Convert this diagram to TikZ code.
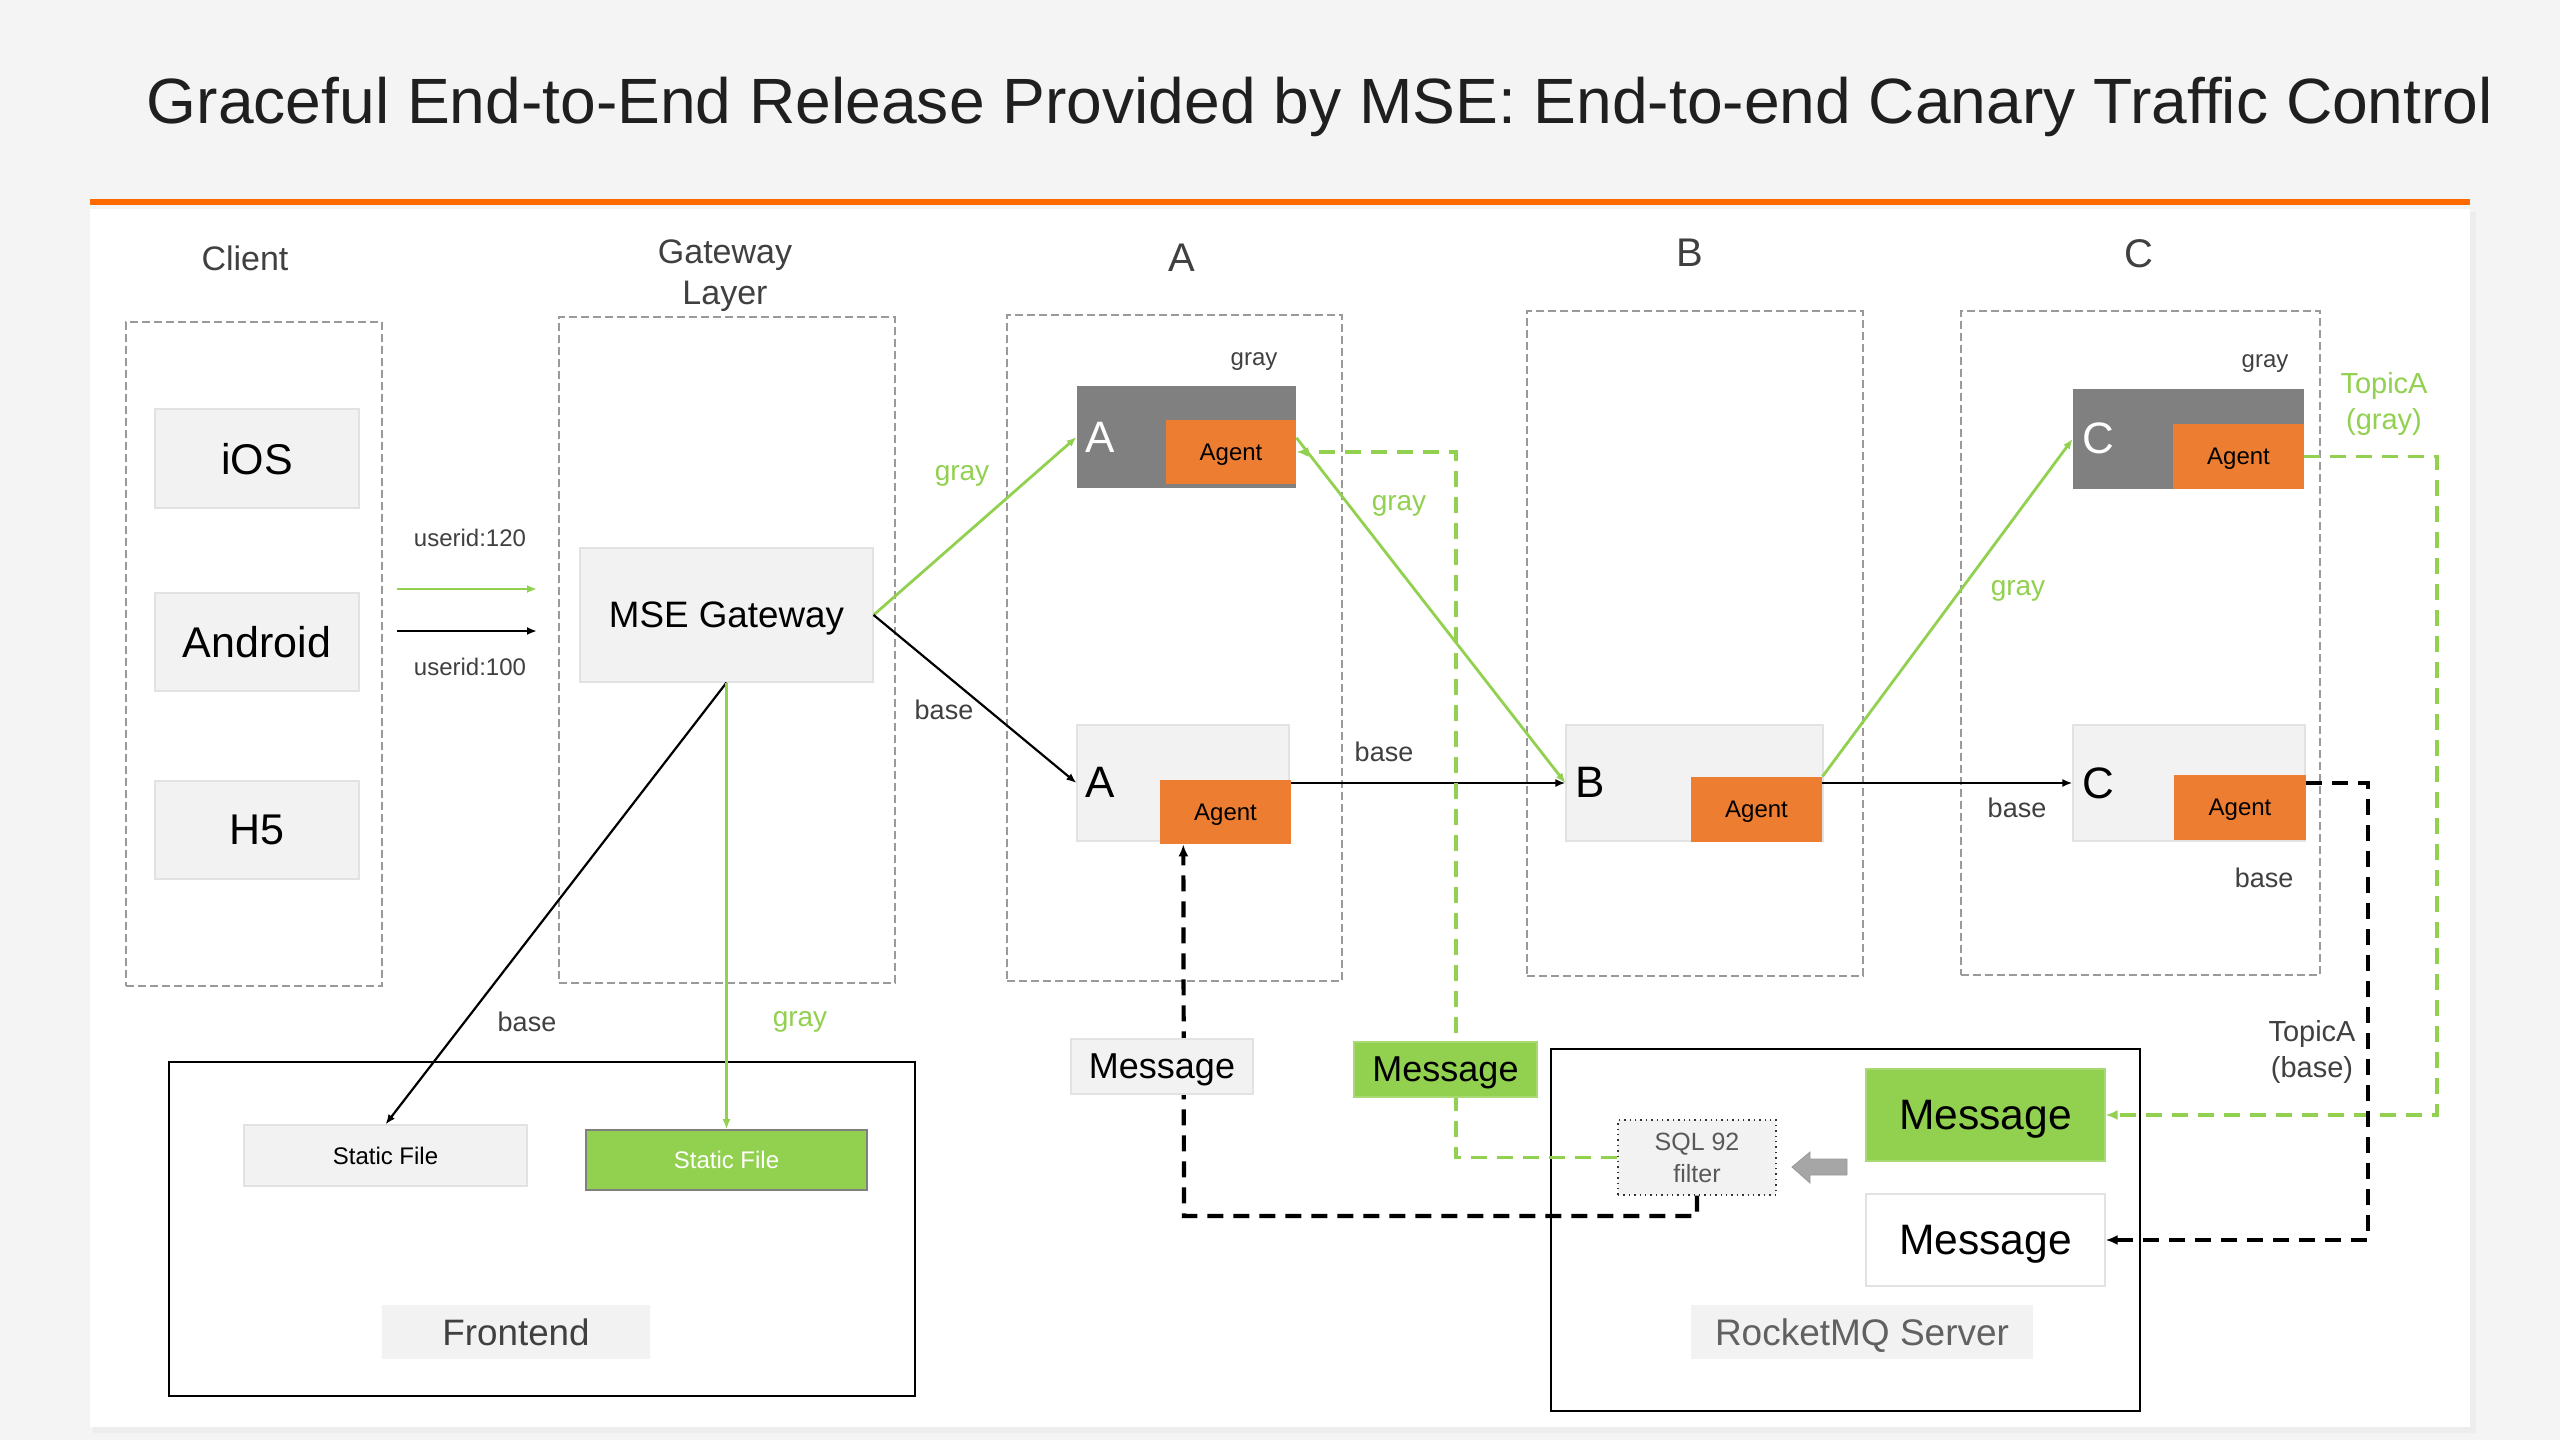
\documentclass[tikz,border=0pt]{standalone}
\usepackage{graphicx}
\usepackage{fontspec}
\setmainfont{Liberation Sans}
\usetikzlibrary{arrows.meta,calc}
\definecolor{pagebg}{HTML}{F4F4F4}
\definecolor{orangeline}{HTML}{FF6A00}
\definecolor{grn}{HTML}{92D050}
\definecolor{agentor}{HTML}{ED7D31}
\definecolor{darkbox}{HTML}{808080}
\definecolor{lightbox}{HTML}{F2F2F2}
\definecolor{lightborder}{HTML}{E2E2E2}
\definecolor{dashborder}{HTML}{9A9A9A}
\definecolor{txtgray}{HTML}{404040}
\definecolor{blockarrow}{HTML}{A6A6A6}
\newcommand\fz[2]{\fontsize{#1}{#2}\selectfont}
\begin{document}
\begin{tikzpicture}[x=0.5pt,y=-0.5pt,
  wh/.style 2 args={minimum width=#1*0.5pt, minimum height=#2*0.5pt},
  box/.style={draw=lightborder, fill=lightbox, inner sep=0pt, line width=0.6pt, text depth=0pt},
  dbox/.style={draw=dashborder, dash pattern=on 4pt off 2pt, line width=0.6pt, inner sep=0pt},
  agentbox/.style={fill=agentor, inner sep=0pt, font=\fz{12}{14}, text depth=0pt},
  graybox/.style={fill=darkbox, inner sep=0pt},
  lbl/.style={text=txtgray, inner sep=0pt, align=center},
  glbl/.style={text=grn, inner sep=0pt, align=center},
  arr/.style={-{Latex[length=5pt,width=4pt]}, line width=1.1pt},
  garr/.style={arr, draw=grn, line width=1.4pt},
  bdash/.style={line width=2.1pt, dash pattern=on 8pt off 5pt, -{Latex[length=6pt,width=5pt]}},
  gdash/.style={line width=1.9pt, draw=grn, dash pattern=on 8pt off 5pt, -{Latex[length=6pt,width=5pt]}},
  msg/.style={inner sep=0pt, line width=0.6pt, text depth=0pt}
]
\useasboundingbox (0,0) rectangle (2560,1440);
\fill[pagebg] (0,0) rectangle (2560,1440);
% panel
\fill[black!7] (93,212) rectangle (2476,1433);
\fill[white] (90,209) rectangle (2470,1427);
\fill[orangeline] (90,199) rectangle (2470,205);

% title
\node[anchor=base, inner sep=0pt, text=black!88] (title) at (1320,123)
  {\resizebox{1173pt}{\height}{\fz{32}{38}Graceful End-to-End Release Provided by MSE: End-to-end Canary Traffic Control}};

% column labels
\node[lbl, font=\fz{17}{20}] (clientlbl) at (245,258) {Client};
\node[lbl, font=\fz{17}{20.5}] (gwlbl) at (725,276) {Gateway\\Layer};
\node[lbl, font=\fz{20}{24}] (colA) at (1182,258) {A};
\node[lbl, font=\fz{20}{24}] (colB) at (1690,253) {B};
\node[lbl, font=\fz{20}{24}] (colC) at (2139,254) {C};

% dashed containers
\node[dbox, wh={256}{664}] (clientbox) at (254,654) {};
\node[dbox, wh={336}{666}] (gwbox) at (727,650) {};
\node[dbox, wh={335}{666}] (Abox) at (1174.5,648) {};
\node[dbox, wh={336}{665}] (Bbox) at (1695,643.5) {};
\node[dbox, wh={359}{664}] (Cbox) at (2140.5,643) {};

% clients
\node[box, wh={204}{99}, font=\fz{21.5}{25}] (ios) at (257,458.5) {iOS};
\node[box, wh={204}{98}, font=\fz{21.5}{25}] (android) at (257,642) {Android};
\node[box, wh={204}{98}, font=\fz{21.5}{25}] (h5) at (257,830) {H5};

% gateway
\node[box, wh={293}{134}, font=\fz{18.4}{22}] (mse) at (726.5,615) {MSE Gateway};

% A
\node[graybox, wh={219}{102}] (Ag) at (1186.5,437) {};
\node[agentbox, wh={130}{64}] (Aga) at (1231,452) {Agent};
\node[inner sep=0pt, text=white, font=\fz{22}{26}] (AgL) at (1100,437) {A};
\node[lbl, font=\fz{12}{14}, text depth=0pt] (Agray) at (1254,359) {gray};
\node[box, wh={212}{116}] (Ab) at (1183,783) {};
\node[agentbox, wh={131}{64}] (Aba) at (1225.5,812) {Agent};
\node[inner sep=0pt, font=\fz{22}{26}] (AbL) at (1100,782) {A};

% B
\node[box, wh={257}{116}] (Bb) at (1694.5,783) {};
\node[agentbox, wh={131}{65}] (Bba) at (1756.5,809.5) {Agent};
\node[inner sep=0pt, font=\fz{22}{26}] (BbL) at (1590,782) {B};

% C
\node[graybox, wh={231}{100}] (Cg) at (2188.5,439) {};
\node[agentbox, wh={131}{65}] (Cga) at (2238.5,456.5) {Agent};
\node[inner sep=0pt, text=white, font=\fz{22}{26}] (CgL) at (2098,438) {C};
\node[lbl, font=\fz{12}{14}, text depth=0pt] (Cgray) at (2265,361) {gray};
\node[box, wh={232}{116}] (Cb) at (2189,783) {};
\node[agentbox, wh={132}{65}] (Cba) at (2240,807.5) {Agent};
\node[inner sep=0pt, font=\fz{22}{26}] (CbL) at (2098,783) {C};
\node[lbl, font=\fz{13.5}{16}] (Cbase) at (2264,878) {base};

% Frontend
\node[draw=black, line width=0.8pt, wh={746}{334}, inner sep=0pt] (front) at (542,1229) {};
\node[box, wh={283}{61}, font=\fz{12}{14}] (sf) at (385.5,1155.5) {Static File};
\node[draw=black!50, fill=grn, line width=0.8pt, wh={281}{60}, inner sep=0pt, text=white, font=\fz{12}{14}] (sfg) at (726.5,1160) {Static File};
\node[fill=lightbox, wh={268}{54}, inner sep=0pt, text=txtgray, font=\fz{18.4}{22}] (frontlbl) at (516,1332) {Frontend};

% RocketMQ
\node[draw=black, line width=0.8pt, wh={589}{362}, inner sep=0pt] (rmq) at (1845.5,1230) {};
\node[fill=lightbox, draw=black!80, dotted, line width=0.7pt, wh={158}{75}, inner sep=0pt, align=center, text=black!65, font=\fz{12.5}{16}] (filt) at (1697,1157.5) {SQL 92\\filter};
\node[msg, fill=grn, draw=grn!80!white, wh={239}{92}, font=\fz{21.3}{25}] (Mgb) at (1985.5,1115) {Message};
\node[msg, fill=white, draw=lightborder, wh={239}{92}, font=\fz{21.3}{25}] (Mwb) at (1985.5,1240) {Message};
\node[fill=lightbox, wh={342}{54}, inner sep=0pt, text=black!62, font=\fz{18.5}{22}, text depth=0pt] (rmqlbl) at (1862,1332) {RocketMQ Server};
\fill[blockarrow, draw=black!40, line width=0.4pt]
  (1792,1167) -- (1810,1152) -- (1810,1159) -- (1847,1159) -- (1847,1175) -- (1810,1175) -- (1810,1183) -- cycle;

% client arrows
\coordinate (cg0) at (397,589); \coordinate (cg1) at (537,589);
\coordinate (cb0) at (397,631); \coordinate (cb1) at (537,631);
\draw[garr] (cg0) -- (cg1);
\draw[arr] (cb0) -- (cb1);
\node[lbl, font=\fz{12}{14}] (u120) at (470,538) {userid:120};
\node[lbl, font=\fz{12}{14}] (u100) at (470,667) {userid:100};

% gateway connectors
\draw[garr] (mse.east) -- (Ag.west);
\draw[arr] (mse.east) -- (Ab.west);
\node[glbl, font=\fz{14}{16}, text depth=0pt] (gl1) at (962,473) {gray};
\node[lbl, font=\fz{13.5}{16}] (bl1) at (944,710) {base};
\draw[arr] (mse.south) -- (sf.north);
\draw[garr] (mse.south) -- (sfg.north);
\node[lbl, font=\fz{13.5}{16}] (bl2) at (527,1022) {base};
\node[glbl, font=\fz{14}{16}, text depth=0pt] (gl2) at (800,1019) {gray};

% A -> B, B -> C
\draw[garr] ($(Aga.north east)!0.28!(Aga.south east)$) -- (Bb.west);
\node[glbl, font=\fz{14}{16}, text depth=0pt] (gl3) at (1399,503) {gray};
\draw[arr] (Aba.east |- Ab.east) -- (Bb.west);
\node[lbl, font=\fz{13.5}{16}] (bl3) at (1384,752) {base};
\draw[garr] (Bba.north east) -- (Cg.west);
\node[glbl, font=\fz{14}{16}, text depth=0pt] (gl4) at (2018,588) {gray};
\draw[arr] (Bba.east |- Bb.east) -- (Cb.west);
\node[lbl, font=\fz{13.5}{16}] (bl4) at (2017,808) {base};

% dashed message paths
\coordinate (gv) at (1456,452);
\draw[gdash] (filt.west) -| (gv) -- (Aga.east);
\coordinate (bk) at (1184,1216);
\draw[bdash] (filt.south) |- (bk) -- ($(Aba.south west)!0.18!(Aba.south east)$);
\coordinate (cgr) at (2437,456.5);
\draw[gdash] (Cga.east) -- (cgr) |- (Mgb.east);
\coordinate (cbr) at (2368,783);
\draw[bdash] (Cba.east |- Cb.east) -- (cbr) |- (Mwb.east);
\node[glbl, font=\fz{14.5}{18}] (tg) at (2384,404) {TopicA\\(gray)};
\node[lbl, font=\fz{14.5}{18}] (tb) at (2312,1052) {TopicA\\(base)};

% message nodes on the paths
\node[msg, fill=lightbox, draw=lightborder, wh={182}{55}, font=\fz{18}{22}] (Mgr) at (1162,1066.5) {Message};
\node[msg, fill=grn, draw=grn!80!white, wh={183}{55}, font=\fz{18}{22}] (Mgm) at (1445.5,1069.5) {Message};
\end{tikzpicture}
\end{document}
